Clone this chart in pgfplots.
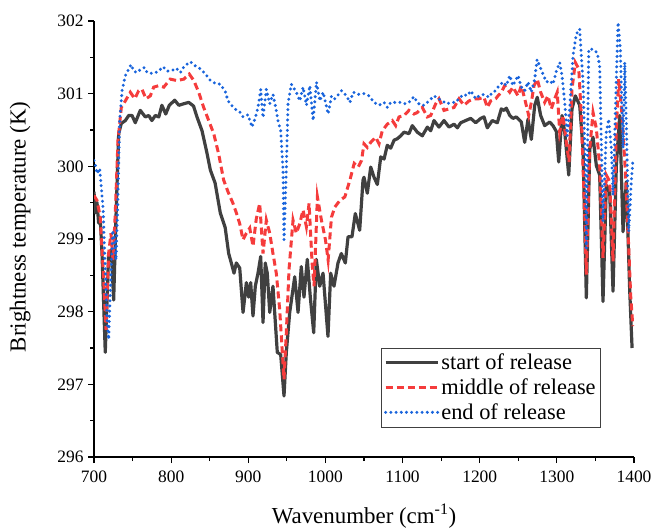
\documentclass[border=0pt]{standalone}
\usepackage{fontspec}
\setmainfont{Liberation Serif}
\usepackage{pgfplots}
\pgfplotsset{compat=1.18}
\definecolor{cstart}{RGB}{64,64,64}
\definecolor{cmid}{RGB}{245,60,60}
\definecolor{cend}{RGB}{25,100,220}
\begin{document}
\begin{tikzpicture}[font=\rmfamily]
\begin{axis}[
  name=ax,
  scale only axis,
  width=540bp, height=436bp,
  xmin=700, xmax=1400, ymin=296, ymax=302,
  axis x line*=bottom, axis y line*=left,
  axis line style={line width=1.2bp, black},
  xtick={700,800,...,1400}, ytick={296,297,...,302},
  minor x tick num=1, minor y tick num=1,
  tick align=outside,
  major tick length=6bp, minor tick length=4bp,
  every tick/.style={black, line width=1.1bp},
  /pgf/number format/assume math mode=true,
  /pgf/number format/set thousands separator={},
  /pgf/number format/fixed,
  tick label style={font=\rmfamily\fontsize{17.5}{20}\selectfont},
  xticklabel style={yshift=-4bp},
  yticklabel style={xshift=-1bp},
  label style={font=\rmfamily\fontsize{23}{26}\selectfont},
  xlabel={Wavenumber (cm\textsuperscript{-1})},
  ylabel={Brightness temperature (K)},
  xlabel style={at={(axis description cs:0.5,-0.1527)}, anchor=base},
  ylabel style={at={(axis description cs:-0.137,0.528)}, anchor=center},
  legend cell align=left,
  legend style={at={(0.939,0.068)}, anchor=south east, draw=black!75, line width=0.8bp,
    font=\rmfamily\fontsize{22.5}{25}\selectfont, inner xsep=3bp, inner ysep=4bp, row sep=3.5bp},
  legend image code/.code={\draw[#1] (0bp,0bp) -- (52bp,0bp);},
]
\addplot[cstart, line width=3.2bp, line join=round] coordinates {
(700,299.65) (701.7,299.36) (703.9,299.5) (706,299.22) (708,299.3) (710.4,298.8) (714.6,297.44) (719,298.8) (722.4,298.85) (725.5,298.16) (728.5,299.3) (732,300.45) (735.4,300.59) (740.6,300.63) (745,300.7) (749.3,300.7) (753.5,300.6) (760,300.77) (766.5,300.68) (771,300.7) (775,300.63) (779.5,300.7) (784,300.68) (788,300.84) (793,300.72) (797.6,300.84) (804.6,300.91) (810,300.84) (816,300.86) (822.8,300.88) (829,300.83) (833.5,300.68) (840,300.49) (846.5,300.18) (850.8,299.95) (857,299.77) (863.7,299.36) (870,299.16) (874.6,298.8)
(878,298.67) (881.5,298.53) (884.5,298.67) (888.9,298.6) (893.2,297.99) (897.5,298.4) (900.5,298.2) (903.1,298.4) (906.1,297.94) (909.1,298.35) (912.6,298.53) (916.1,298.76) (919.1,297.85) (922,298.67) (924.6,298.53) (927.8,297.99) (932,298.35) (937.6,297.44) (942,297.41) (946.3,296.84) (949.3,297.44) (953.7,297.99) (960.2,298.48) (964.5,297.99) (968.7,298.62) (972.2,298.2) (976.5,298.72) (980.4,298.2) (984.8,297.71) (988.2,298.72) (992.6,298.35) (996.9,298.53) (1003.3,297.66) (1006.8,298.53) (1011.1,298.35) (1016.3,298.67) (1020.6,298.8) (1025.8,298.67) (1029.3,299.03) (1034.4,299.03) (1038.7,299.35) (1044.4,299.12) (1048.7,299.81)
(1050,299.85) (1054.3,299.63) (1058.7,299.99) (1063,299.85) (1067.3,299.75) (1071.7,300.13) (1076,300.1) (1080.2,300.29) (1084.6,300.25) (1089,300.36) (1093.2,300.38) (1097.6,300.42) (1101.9,300.47) (1108.3,300.45) (1112.6,300.56) (1119.1,300.47) (1125.6,300.42) (1132.1,300.54) (1136.5,300.49) (1140.7,300.63) (1147.2,300.54) (1153.7,300.63) (1160.2,300.54) (1166.7,300.58) (1171,300.53) (1175.4,300.6) (1181.8,300.63) (1188.3,300.66) (1194.8,300.6) (1201.3,300.66) (1205.6,300.68) (1209.8,300.53) (1216.3,300.63) (1222.8,300.6) (1228,300.79) (1231.5,300.77)
(1234.5,300.8) (1238.9,300.7) (1243.1,300.66) (1247.4,300.68) (1253.9,300.61) (1258.3,300.33) (1262.6,300.65) (1266.9,300.37) (1271.3,300.84) (1274.6,300.95) (1279,300.7) (1284.2,300.56) (1290.7,300.61) (1295,300.56) (1299.3,300.48) (1302.4,300.06) (1306.7,300.7) (1310.2,300.47) (1315.4,299.88) (1319.6,300.79) (1323.9,300.97) (1329.6,300.84) (1333.9,300.24) (1338.2,298.19) (1342.6,300.24) (1346.9,300.4) (1351.2,300.01) (1355.5,299.88) (1359.8,298.14) (1364.1,299.74) (1368.5,299.65) (1372.8,298.28) (1377.1,300.01) (1381.5,300.7) (1385.8,299.1) (1390.1,299.79) (1394.4,298.3) (1397.5,297.5)
};
\addlegendentry{start of release}
\addplot[cmid, line width=3bp, dash pattern=on 7bp off 4bp] coordinates {
(700,299.6) (703.9,299.53) (708,299.31) (712.6,298.44) (715.6,297.75) (719,298.8) (722,299.08) (724.6,298.71) (727.6,299.36) (731.1,300.36) (735.4,300.81) (740.6,300.9) (747.1,301.02) (752.8,300.93) (757.9,301.04) (762.2,301.06) (767.4,300.93) (773,300.97) (777.4,301.09) (784,301.11) (790.4,301.09) (798.9,301.2) (807.6,301.18) (816.4,301.2) (823.5,301.27) (829.4,301.18) (835.7,301.02) (842.2,300.81) (848.7,300.63) (855.2,300.45) (861.6,300.17) (868.1,299.81) (873.7,299.65)
(880.2,299.49) (884.5,299.36) (888.9,299.21) (893.2,298.99) (897.5,299.08) (901.9,299.15) (906.1,298.9) (910.4,299.28) (914.8,299.49) (919.1,298.8) (923.4,299.26) (927.8,299.08) (932,298.8) (936.3,298.53) (940.7,298.03) (944.1,297.44) (946.3,297.07) (949.3,297.71) (952.8,298.58) (958,299.26) (962.3,299.08) (966.7,299.21) (971,299.4) (975.3,299.17) (978.8,299.49) (982.7,298.67) (985.3,298.35) (989.6,299.58) (994.8,299.26) (1000,298.99) (1003.5,298.71) (1007.8,299.3) (1012.2,299.44) (1018.7,299.53) (1025.2,299.58) (1031.7,299.81) (1037.3,300.04) (1042.5,299.99) (1046.8,300.08)
(1050,300.31) (1054.3,300.26) (1058.7,300.33) (1065.2,300.4) (1069.5,300.31) (1073.7,300.49) (1080.2,300.58) (1086.7,300.63) (1091.1,300.56) (1095.4,300.68) (1101.9,300.7) (1108.3,300.77) (1114.8,300.72) (1119.1,300.74) (1125.6,300.81) (1132.1,300.68) (1136.5,300.7) (1142.9,300.86) (1147.2,300.93) (1153.7,300.77) (1160.2,300.79) (1166.7,300.81) (1173.2,300.93) (1179.6,300.84) (1186.1,300.9) (1192.6,300.93) (1199.1,300.93) (1205.6,300.95) (1209.8,300.81) (1214.2,300.9) (1220.7,300.93)
(1223.7,300.97) (1228,301.02) (1232.4,301.11) (1238.9,301.02) (1243.1,301.09) (1249.6,300.97) (1253.9,301.11) (1258.3,300.93) (1263.5,300.70) (1266.9,300.88) (1270.4,301.11) (1274.6,301.20) (1279,301.02) (1284.2,300.88) (1288.5,300.97) (1292.8,300.79) (1297.2,300.93) (1300.5,301.02) (1303.7,300.47) (1308,300.70) (1312.3,300.33) (1315.8,300.06) (1319.6,301.06) (1323.9,301.43) (1328.4,301.34) (1331.7,300.70) (1336.1,299.33) (1338.2,298.51) (1342.6,300.24) (1346.9,300.74) (1351.2,300.52) (1355.5,300.01) (1359.8,298.74) (1364.1,299.88) (1368.5,299.79) (1372.8,298.69) (1377.1,300.52) (1380.2,301.2) (1384.5,300.70) (1388.8,299.93) (1392.3,299.10) (1395.8,298.2) (1398.5,297.8)
};
\addlegendentry{middle of release}
\addplot[cend, line width=3.3bp, line cap=round, dash pattern=on 0bp off 5.2bp] coordinates {
(700,300.08) (702,300.01) (703.9,299.9) (707.4,299.97) (709.1,299.76) (711.7,299.44) (713.9,298.8) (716.9,297.89) (719,297.62) (722,298.53) (724.2,299.12) (726.4,298.99) (728.5,298.71) (730.7,299.44) (733.3,300.63) (736.3,301.04) (740.7,301.25) (745,301.34) (748,301.4) (751.5,301.31) (755.8,301.29) (761,301.34) (765.4,301.36) (768.8,301.29) (775.2,301.28) (779.6,301.29) (783.9,301.31) (789.5,301.37) (794.7,301.31) (801.2,301.32) (806.8,301.35) (812,301.29) (817.2,301.38) (825,301.44) (831.5,301.38) (838,301.34) (844.5,301.27) (851,301.18) (857.5,301.14) (864,301.13) (870.5,301.02)
(873.7,300.9) (882.4,300.79) (888.9,300.75) (893.2,300.68) (899.6,300.71) (904.8,300.54) (909.1,300.67) (912.6,300.81) (916.1,301.06) (919.1,300.67) (923.4,301.06) (927.8,300.86) (932,300.99) (936.3,300.77) (938.5,300.63) (942,300.49) (945,299.95) (946.3,298.99) (949.3,299.95) (951.5,300.86) (955.9,301.13) (962.3,301.02) (966.7,300.90) (971,301.09) (975.3,300.84) (979.7,301.11) (984.1,300.63) (988.4,301.16) (992.8,300.90) (997.1,301.02) (1003.5,300.72) (1007.9,300.97) (1012.2,300.93) (1020.9,301.04) (1027.4,300.97) (1031.7,300.88) (1036.1,301.02) (1042.5,300.99)
(1050,301.0) (1056.5,300.97) (1063,300.88) (1069.5,300.84) (1076,300.88) (1080.2,300.81) (1084.6,300.88) (1091.1,300.88) (1097.6,300.88) (1104,300.86) (1108.3,300.88) (1114.8,300.96) (1119.1,300.88) (1123.5,300.84) (1127.8,300.84) (1134.3,300.9) (1140.7,300.97) (1145,300.94) (1151.5,300.90) (1157.2,300.86) (1162.4,300.88) (1168.9,300.88) (1174.5,300.95) (1179.7,300.99) (1184,300.97) (1188.3,301.04) (1194.8,300.93) (1199.1,300.97) (1205.6,300.99) (1212.1,300.95) (1216.3,301.02) (1220.7,301.04)
(1223.7,301.09) (1230.2,301.16) (1234.5,301.11) (1238.9,301.25) (1243.1,301.11) (1249.6,301.25) (1253.9,301.09) (1258.3,301.04) (1262.6,301.16) (1266.9,301.02) (1271.3,301.20) (1274.3,301.47) (1277.8,301.38) (1281.2,301.29) (1286.4,301.16) (1290.7,301.18) (1295,301.13) (1299.3,301.31) (1303.7,301.43) (1306.7,301.25) (1310.2,300.88) (1313.5,300.42) (1316.6,300.79) (1320.9,301.52) (1325.2,301.82) (1329.6,301.89) (1333.9,301.16) (1336.9,300.01) (1338.2,298.87) (1341.3,301.61) (1346.9,301.61) (1352.5,301.56) (1355.5,301.38) (1359.8,299.24) (1364.1,300.47) (1367.2,300.65) (1370.6,300.24) (1372.8,299.60) (1375.8,300.74) (1379.3,301.98) (1382.3,301.61) (1385.8,300.25) (1388,301.43) (1390.1,300.56) (1393.2,299.10) (1396.5,299.79) (1398.7,300.10)
};
\addlegendentry{end of release}
\end{axis}
\pgfresetboundingbox
\path ([shift={(-94bp,-70bp)}]ax.south west) rectangle ([shift={(19bp,21bp)}]ax.north east);
\end{tikzpicture}
\end{document}
